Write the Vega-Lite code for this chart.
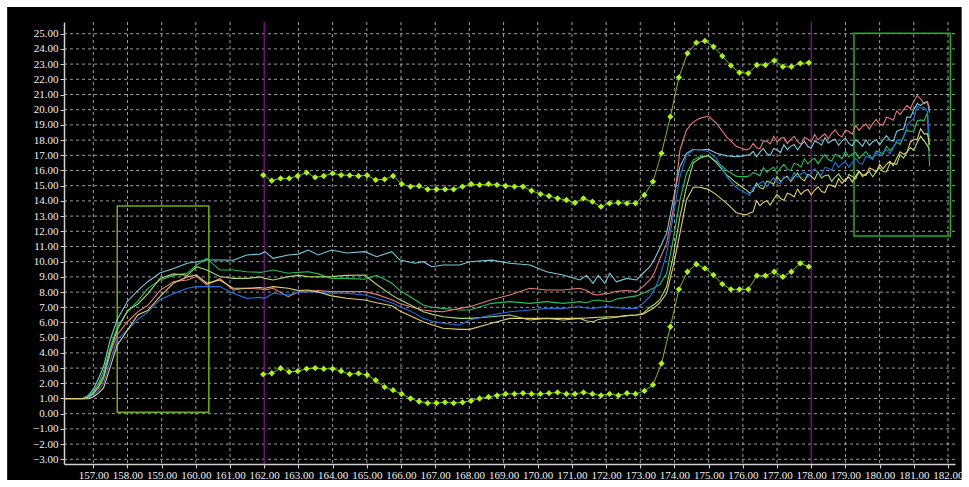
{
 "$schema": "https://vega.github.io/schema/vega-lite/v6.json",
 "width": 891,
 "height": 442,
 "autosize": {"type": "none"},
 "padding": {"left": 64, "top": 22, "right": 14, "bottom": 23},
 "background": "#ffffff",
 "config": {
  "view": {"stroke": null},
  "axis": {"domainColor": "#d0d0d0", "domainWidth": 1.5, "tickColor": "#d0d0d0", "tickSize": 4, "labelColor": "#f0f0f0", "labelFont": "Liberation Sans Narrow", "labelFontSize": 11}
 },
 "datasets": {
  "series": [
   {"x":156.14,"cy":0.97,"sa":1.0,"g":1.0,"lm":1.0,"bl":0.95,"ye":1.0},
   {"x":156.5,"cy":0.97,"sa":1.0,"g":1.0,"lm":1.0,"bl":0.95,"ye":1.0},
   {"x":156.7,"cy":1.0,"sa":1.0,"g":1.02,"lm":1.0,"bl":0.97,"ye":0.98},
   {"x":156.85,"cy":1.2,"sa":1.08,"g":1.15,"lm":1.08,"bl":1.02,"ye":0.98},
   {"x":157.0,"cy":1.6,"sa":1.3,"g":1.45,"lm":1.35,"bl":1.2,"ye":1.1},
   {"x":157.15,"cy":2.3,"sa":1.7,"g":2.0,"lm":1.8,"bl":1.5,"ye":1.35},
   {"x":157.3,"cy":3.1,"sa":2.3,"g":2.8,"lm":2.5,"bl":2.0,"ye":1.7},
   {"x":157.5,"cy":4.9,"sa":4.0,"g":4.4,"lm":4.2,"bl":3.5,"ye":3.1},
   {"x":157.7,"cy":6.2,"sa":5.2,"g":5.7,"lm":5.5,"bl":4.9,"ye":4.5},
   {"x":158.0,"cy":7.4,"sa":6.05,"g":6.7,"lm":6.8,"bl":5.5,"ye":5.5},
   {"x":158.3,"cy":8.1,"sa":6.7,"g":7.4,"lm":7.2,"bl":6.2,"ye":6.5},
   {"x":158.6,"cy":8.7,"sa":7.15,"g":8.25,"lm":7.9,"bl":6.7,"ye":6.8},
   {"x":158.95,"cy":9.25,"sa":8.1,"g":8.8,"lm":8.9,"bl":7.5,"ye":7.7},
   {"x":159.35,"cy":9.55,"sa":8.7,"g":9.1,"lm":9.2,"bl":7.9,"ye":8.6},
   {"x":159.75,"cy":9.9,"sa":8.8,"g":9.25,"lm":9.1,"bl":8.25,"ye":9.0},
   {"x":160.02,"cy":10.0,"sa":9.02,"g":9.78,"lm":9.67,"bl":8.36,"ye":9.12},
   {"x":160.32,"cy":10.11,"sa":8.47,"g":10.22,"lm":9.45,"bl":8.36,"ye":8.58},
   {"x":160.7,"cy":10.11,"sa":8.9,"g":9.45,"lm":9.02,"bl":8.36,"ye":8.8},
   {"x":161.09,"cy":10.1,"sa":8.14,"g":9.45,"lm":8.9,"bl":7.92,"ye":8.25},
   {"x":161.49,"cy":10.44,"sa":8.25,"g":9.34,"lm":8.9,"bl":7.59,"ye":8.25},
   {"x":161.88,"cy":10.5,"sa":8.2,"g":9.3,"lm":9.0,"bl":7.65,"ye":8.3},
   {"x":162.02,"cy":10.66,"sa":8.14,"g":9.34,"lm":8.9,"bl":7.59,"ye":8.25},
   {"x":162.26,"cy":10.22,"sa":8.25,"g":9.45,"lm":8.8,"bl":7.92,"ye":8.36},
   {"x":162.7,"cy":10.44,"sa":7.7,"g":9.24,"lm":9.02,"bl":7.81,"ye":8.25},
   {"x":163.0,"cy":10.5,"sa":8.0,"g":9.3,"lm":9.1,"bl":8.0,"ye":8.1},
   {"x":163.29,"cy":10.77,"sa":8.03,"g":9.34,"lm":9.02,"bl":8.03,"ye":8.14},
   {"x":163.58,"cy":10.44,"sa":8.1,"g":9.2,"lm":9.0,"bl":8.0,"ye":8.0},
   {"x":163.97,"cy":10.77,"sa":8.03,"g":8.9,"lm":9.02,"bl":7.92,"ye":7.75},
   {"x":164.41,"cy":10.57,"sa":8.03,"g":8.9,"lm":9.1,"bl":7.92,"ye":7.6},
   {"x":164.94,"cy":10.66,"sa":8.03,"g":8.85,"lm":9.12,"bl":7.81,"ye":7.48},
   {"x":165.29,"cy":10.33,"sa":7.85,"g":9.1,"lm":8.5,"bl":7.6,"ye":7.3},
   {"x":165.73,"cy":10.66,"sa":7.5,"g":8.6,"lm":7.8,"bl":7.3,"ye":7.1},
   {"x":165.97,"cy":10.11,"sa":7.25,"g":8.1,"lm":7.5,"bl":7.05,"ye":6.75},
   {"x":166.41,"cy":9.9,"sa":6.95,"g":7.5,"lm":7.0,"bl":6.6,"ye":6.3},
   {"x":166.65,"cy":10.0,"sa":6.82,"g":7.15,"lm":6.71,"bl":6.27,"ye":6.05},
   {"x":166.9,"cy":9.67,"sa":6.75,"g":7.0,"lm":6.55,"bl":6.1,"ye":5.85},
   {"x":167.23,"cy":9.78,"sa":6.71,"g":6.93,"lm":6.38,"bl":5.95,"ye":5.62},
   {"x":167.72,"cy":9.78,"sa":6.93,"g":6.82,"lm":6.27,"bl":5.84,"ye":5.55},
   {"x":168.01,"cy":10.0,"sa":7.04,"g":6.82,"lm":6.27,"bl":6.16,"ye":5.55},
   {"x":168.65,"cy":10.1,"sa":7.5,"g":7.26,"lm":6.38,"bl":6.49,"ye":5.95},
   {"x":169.18,"cy":9.9,"sa":7.81,"g":7.37,"lm":6.49,"bl":6.71,"ye":6.27},
   {"x":169.77,"cy":9.78,"sa":8.25,"g":7.26,"lm":6.16,"bl":6.82,"ye":6.27},
   {"x":170.26,"cy":9.34,"sa":8.14,"g":7.37,"lm":6.27,"bl":6.93,"ye":6.27},
   {"x":170.74,"cy":9.12,"sa":8.14,"g":7.26,"lm":6.16,"bl":6.93,"ye":6.27},
   {"x":171.23,"cy":8.8,"sa":8.25,"g":7.37,"lm":6.27,"bl":7.04,"ye":6.27},
   {"x":171.43,"cy":9.1,"sa":8.1,"g":7.3,"lm":6.1,"bl":6.95,"ye":6.3},
   {"x":171.62,"cy":8.58,"sa":7.85,"g":7.45,"lm":6.05,"bl":6.93,"ye":6.32},
   {"x":171.77,"cy":9.1,"sa":7.81,"g":7.48,"lm":6.2,"bl":6.98,"ye":6.34},
   {"x":171.96,"cy":8.58,"sa":7.9,"g":7.4,"lm":6.27,"bl":7.04,"ye":6.36},
   {"x":172.11,"cy":9.24,"sa":7.92,"g":7.37,"lm":6.3,"bl":7.04,"ye":6.38},
   {"x":172.3,"cy":8.68,"sa":8.05,"g":7.55,"lm":6.35,"bl":6.98,"ye":6.38},
   {"x":172.6,"cy":8.9,"sa":8.1,"g":7.65,"lm":6.45,"bl":6.93,"ye":6.45},
   {"x":172.89,"cy":8.8,"sa":8.03,"g":7.75,"lm":6.49,"bl":6.93,"ye":6.49},
   {"x":173.08,"cy":9.24,"sa":8.36,"g":7.92,"lm":6.6,"bl":7.26,"ye":6.55},
   {"x":173.28,"cy":9.67,"sa":8.8,"g":8.14,"lm":7.0,"bl":7.7,"ye":6.8},
   {"x":173.42,"cy":10.2,"sa":9.3,"g":8.3,"lm":7.2,"bl":8.2,"ye":7.0},
   {"x":173.57,"cy":10.9,"sa":10.2,"g":8.5,"lm":7.5,"bl":9.0,"ye":7.3},
   {"x":173.77,"cy":11.86,"sa":11.2,"g":9.24,"lm":8.36,"bl":10.55,"ye":7.92},
   {"x":173.96,"cy":14.06,"sa":13.4,"g":11.42,"lm":10.33,"bl":12.96,"ye":9.67},
   {"x":174.16,"cy":16.25,"sa":17.35,"g":14.06,"lm":12.96,"bl":15.6,"ye":11.86},
   {"x":174.35,"cy":17.13,"sa":18.66,"g":15.8,"lm":14.9,"bl":17.0,"ye":14.06},
   {"x":174.55,"cy":17.4,"sa":19.2,"g":16.7,"lm":16.5,"bl":17.35,"ye":14.9},
   {"x":174.74,"cy":17.35,"sa":19.43,"g":16.9,"lm":16.8,"bl":17.4,"ye":14.9},
   {"x":174.99,"cy":17.4,"sa":19.58,"g":16.96,"lm":17.0,"bl":17.24,"ye":14.76},
   {"x":175.23,"cy":17.13,"sa":19.1,"g":16.6,"lm":16.5,"bl":16.8,"ye":14.4},
   {"x":175.53,"cy":16.96,"sa":18.2,"g":16.0,"lm":15.7,"bl":15.6,"ye":13.84},
   {"x":175.6,"cy":16.95,"sa":18.05,"g":15.9,"lm":15.57,"bl":15.4,"ye":13.69},
   {"x":175.7,"cy":16.93,"sa":17.83,"g":15.77,"lm":15.38,"bl":15.16,"ye":13.47},
   {"x":175.8,"cy":16.9,"sa":17.61,"g":15.63,"lm":15.19,"bl":14.9,"ye":13.24},
   {"x":175.9,"cy":16.93,"sa":17.51,"g":15.6,"lm":15.03,"bl":14.75,"ye":13.16},
   {"x":176.0,"cy":16.96,"sa":17.43,"g":15.6,"lm":14.87,"bl":14.63,"ye":13.12},
   {"x":176.1,"cy":17.0,"sa":17.36,"g":15.6,"lm":14.72,"bl":14.51,"ye":13.08},
   {"x":176.2,"cy":17.04,"sa":17.44,"g":15.65,"lm":14.52,"bl":14.38,"ye":13.2},
   {"x":176.3,"cy":17.26,"sa":17.78,"g":15.86,"lm":14.65,"bl":14.88,"ye":13.28},
   {"x":176.4,"cy":16.9,"sa":17.5,"g":15.79,"lm":15.17,"bl":14.94,"ye":14.02},
   {"x":176.5,"cy":17.21,"sa":17.43,"g":15.65,"lm":14.87,"bl":15.16,"ye":13.68},
   {"x":176.6,"cy":17.45,"sa":17.95,"g":16.19,"lm":14.79,"bl":15.29,"ye":13.9},
   {"x":176.7,"cy":17.12,"sa":17.92,"g":15.87,"lm":15.3,"bl":14.93,"ye":14.02},
   {"x":176.8,"cy":16.99,"sa":17.75,"g":16.09,"lm":15.22,"bl":15.27,"ye":13.73},
   {"x":176.9,"cy":17.45,"sa":18.25,"g":16.21,"lm":15.08,"bl":15.53,"ye":14.11},
   {"x":177.0,"cy":17.35,"sa":17.9,"g":15.85,"lm":15.61,"bl":15.23,"ye":14.43},
   {"x":177.1,"cy":17.18,"sa":18.1,"g":16.16,"lm":15.28,"bl":15.13,"ye":14.16},
   {"x":177.2,"cy":17.7,"sa":18.18,"g":16.41,"lm":15.5,"bl":15.6,"ye":14.04},
   {"x":177.3,"cy":17.37,"sa":17.78,"g":16.09,"lm":15.63,"bl":15.52,"ye":14.51},
   {"x":177.4,"cy":17.59,"sa":18.05,"g":15.99,"lm":15.27,"bl":15.36,"ye":14.42},
   {"x":177.5,"cy":17.71,"sa":18.25,"g":16.47,"lm":15.58,"bl":15.88,"ye":14.26},
   {"x":177.6,"cy":17.35,"sa":17.88,"g":16.39,"lm":15.82,"bl":15.54,"ye":14.78},
   {"x":177.7,"cy":17.67,"sa":17.73,"g":16.24,"lm":15.48,"bl":15.77,"ye":14.43},
   {"x":177.8,"cy":17.91,"sa":18.17,"g":16.77,"lm":15.32,"bl":15.9,"ye":14.65},
   {"x":177.9,"cy":17.58,"sa":18.06,"g":16.44,"lm":15.75,"bl":15.55,"ye":14.76},
   {"x":178.0,"cy":17.46,"sa":17.88,"g":16.67,"lm":15.62,"bl":15.87,"ye":14.4},
   {"x":178.1,"cy":17.94,"sa":18.37,"g":16.8,"lm":15.42,"bl":16.12,"ye":14.7},
   {"x":178.2,"cy":17.85,"sa":18.01,"g":16.45,"lm":15.9,"bl":15.8,"ye":14.93},
   {"x":178.3,"cy":17.67,"sa":18.24,"g":16.78,"lm":15.51,"bl":15.71,"ye":14.62},
   {"x":178.4,"cy":18.16,"sa":18.41,"g":17.04,"lm":15.66,"bl":16.21,"ye":14.55},
   {"x":178.5,"cy":17.79,"sa":18.09,"g":16.72,"lm":15.71,"bl":16.15,"ye":15.06},
   {"x":178.6,"cy":17.97,"sa":18.45,"g":16.62,"lm":15.28,"bl":16.02,"ye":15.02},
   {"x":178.7,"cy":18.06,"sa":18.68,"g":17.07,"lm":15.57,"bl":16.55,"ye":14.9},
   {"x":178.8,"cy":17.66,"sa":18.34,"g":16.95,"lm":15.78,"bl":16.21,"ye":15.46},
   {"x":178.9,"cy":17.94,"sa":18.21,"g":16.77,"lm":15.43,"bl":16.44,"ye":15.15},
   {"x":179.0,"cy":18.14,"sa":18.67,"g":17.26,"lm":15.28,"bl":16.57,"ye":15.41},
   {"x":179.1,"cy":17.78,"sa":18.56,"g":16.9,"lm":15.73,"bl":16.21,"ye":15.57},
   {"x":179.2,"cy":17.62,"sa":18.39,"g":17.09,"lm":15.61,"bl":16.53,"ye":15.25},
   {"x":179.3,"cy":18.02,"sa":18.95,"g":17.18,"lm":15.44,"bl":16.8,"ye":15.63},
   {"x":179.4,"cy":17.84,"sa":18.64,"g":16.78,"lm":15.94,"bl":16.5,"ye":15.96},
   {"x":179.5,"cy":17.59,"sa":18.9,"g":17.05,"lm":15.59,"bl":16.42,"ye":15.71},
   {"x":179.6,"cy":18.02,"sa":19.06,"g":17.25,"lm":15.79,"bl":16.93,"ye":15.68},
   {"x":179.7,"cy":17.66,"sa":18.73,"g":16.92,"lm":15.92,"bl":16.86,"ye":16.17},
   {"x":179.8,"cy":17.89,"sa":19.08,"g":16.81,"lm":15.59,"bl":16.71,"ye":16.06},
   {"x":179.9,"cy":18.02,"sa":19.36,"g":17.29,"lm":15.92,"bl":17.24,"ye":15.89},
   {"x":180.0,"cy":17.67,"sa":19.06,"g":17.21,"lm":16.19,"bl":16.91,"ye":16.4},
   {"x":180.1,"cy":18.01,"sa":18.98,"g":17.07,"lm":15.93,"bl":17.19,"ye":16.11},
   {"x":180.2,"cy":18.29,"sa":19.49,"g":17.61,"lm":15.9,"bl":17.38,"ye":16.41},
   {"x":180.3,"cy":18.0,"sa":19.44,"g":17.3,"lm":16.46,"bl":17.1,"ye":16.6},
   {"x":180.4,"cy":17.92,"sa":19.31,"g":17.54,"lm":16.46,"bl":17.48,"ye":16.32},
   {"x":180.5,"cy":18.57,"sa":19.92,"g":17.86,"lm":16.41,"bl":17.99,"ye":16.8},
   {"x":180.6,"cy":18.68,"sa":19.68,"g":17.72,"lm":17.04,"bl":17.95,"ye":17.23},
   {"x":180.7,"cy":18.72,"sa":20.0,"g":18.25,"lm":16.82,"bl":18.12,"ye":17.08},
   {"x":180.8,"cy":19.53,"sa":20.28,"g":18.68,"lm":17.22,"bl":18.95,"ye":17.19},
   {"x":180.9,"cy":19.49,"sa":20.08,"g":18.55,"lm":17.51,"bl":19.22,"ye":17.88},
   {"x":181.0,"cy":20.0,"sa":20.55,"g":18.62,"lm":17.33,"bl":19.42,"ye":18.02},
   {"x":181.1,"cy":20.4,"sa":20.93,"g":19.26,"lm":17.84,"bl":20.22,"ye":18.06},
   {"x":181.2,"cy":20.27,"sa":20.71,"g":19.33,"lm":18.26,"bl":20.11,"ye":18.75},
   {"x":181.3,"cy":20.48,"sa":20.39,"g":19.27,"lm":17.95,"bl":20.15,"ye":18.41},
   {"x":181.4,"cy":20.53,"sa":20.51,"g":19.8,"lm":17.64,"bl":19.88,"ye":18.42},
   {"x":181.46,"cy":19.8,"sa":20.1,"g":16.3,"lm":17.3,"bl":18.0,"ye":17.7}
  ],
  "envelope": [
   {"x":161.97,"up":15.70,"lo":2.59},{"x":162.22,"up":15.33,"lo":2.66},{"x":162.48,"up":15.48,"lo":2.99},{"x":162.73,"up":15.48,"lo":2.75},
   {"x":162.98,"up":15.64,"lo":2.8},{"x":163.24,"up":15.86,"lo":2.95},{"x":163.49,"up":15.55,"lo":3.0},{"x":163.74,"up":15.64,"lo":2.95},
   {"x":164.0,"up":15.81,"lo":2.95},{"x":164.25,"up":15.70,"lo":2.8},{"x":164.5,"up":15.68,"lo":2.6},{"x":164.76,"up":15.64,"lo":2.65},
   {"x":165.01,"up":15.68,"lo":2.55},{"x":165.26,"up":15.38,"lo":2.2},{"x":165.52,"up":15.42,"lo":1.75},{"x":165.77,"up":15.64,"lo":1.55},
   {"x":166.02,"up":15.11,"lo":1.3},{"x":166.28,"up":14.94,"lo":1.0},{"x":166.53,"up":14.98,"lo":0.8},{"x":166.78,"up":14.76,"lo":0.7},
   {"x":167.04,"up":14.76,"lo":0.7},{"x":167.29,"up":14.76,"lo":0.75},{"x":167.54,"up":14.76,"lo":0.7},{"x":167.8,"up":14.94,"lo":0.75},
   {"x":168.05,"up":15.11,"lo":0.85},{"x":168.3,"up":15.05,"lo":1.0},{"x":168.56,"up":15.11,"lo":1.1},{"x":168.81,"up":15.05,"lo":1.2},
   {"x":169.06,"up":14.98,"lo":1.3},{"x":169.32,"up":14.94,"lo":1.3},{"x":169.57,"up":14.94,"lo":1.35},{"x":169.82,"up":14.67,"lo":1.3},
   {"x":170.08,"up":14.45,"lo":1.3},{"x":170.33,"up":14.32,"lo":1.35},{"x":170.58,"up":14.17,"lo":1.4},{"x":170.84,"up":14.06,"lo":1.3},
   {"x":171.09,"up":13.88,"lo":1.3},{"x":171.34,"up":14.17,"lo":1.4},{"x":171.6,"up":13.95,"lo":1.3},{"x":171.85,"up":13.62,"lo":1.2},
   {"x":172.1,"up":13.84,"lo":1.3},{"x":172.36,"up":13.88,"lo":1.2},{"x":172.61,"up":13.84,"lo":1.35},{"x":172.86,"up":13.84,"lo":1.3},
   {"x":173.12,"up":14.39,"lo":1.5},{"x":173.37,"up":15.27,"lo":1.9},{"x":173.62,"up":17.13,"lo":3.3},{"x":173.88,"up":19.54,"lo":5.72},
   {"x":174.13,"up":22.13,"lo":8.18},{"x":174.38,"up":23.71,"lo":9.34},{"x":174.64,"up":24.41,"lo":9.83},{"x":174.89,"up":24.52,"lo":9.56},
   {"x":175.14,"up":24.15,"lo":9.13},{"x":175.4,"up":23.53,"lo":8.53},{"x":175.65,"up":22.9,"lo":8.18},{"x":175.9,"up":22.44,"lo":8.18},
   {"x":176.16,"up":22.39,"lo":8.18},{"x":176.41,"up":22.94,"lo":9.08},{"x":176.66,"up":22.94,"lo":9.08},{"x":176.92,"up":23.23,"lo":9.34},
   {"x":177.17,"up":22.83,"lo":9.01},{"x":177.42,"up":22.83,"lo":9.34},{"x":177.68,"up":23.05,"lo":9.89},{"x":177.93,"up":23.09,"lo":9.67}
  ],
  "gridx": [{"g":157},{"g":158},{"g":159},{"g":160},{"g":161},{"g":163},{"g":164},{"g":165},{"g":166},{"g":167},{"g":168},{"g":169},{"g":170},{"g":171},{"g":172},{"g":173},{"g":174},{"g":175},{"g":176},{"g":177},{"g":179},{"g":180},{"g":181},{"g":182}],
  "gridy": [{"g":-3},{"g":-2},{"g":-1},{"g":0},{"g":1},{"g":2},{"g":3},{"g":4},{"g":5},{"g":6},{"g":7},{"g":8},{"g":9},{"g":10},{"g":11},{"g":12},{"g":13},{"g":14},{"g":15},{"g":16},{"g":17},{"g":18},{"g":19},{"g":20},{"g":21},{"g":22},{"g":23},{"g":24},{"g":25}]
 },
 "layer": [
  {
   "data": {"values": [{}]},
   "mark": {"type": "rect", "fill": "#000000", "clip": false},
   "encoding": {
    "x": {"datum": 154.48, "type": "quantitative", "scale": {"domain": [156.143, 182.205], "nice": false, "zero": false},
          "axis": {"zindex": 1, "values": [157,158,159,160,161,162,163,164,165,166,167,168,169,170,171,172,173,174,175,176,177,178,179,180,181,182], "format": ".2f", "grid": false, "title": null, "labelPadding": 1, "labelFlush": false, "labelOverlap": false}},
    "x2": {"datum": 182.4},
    "y": {"datum": 26.76, "type": "quantitative", "scale": {"domain": [-3.31, 25.77], "nice": false, "zero": false},
          "axis": {"zindex": 1, "values": [-3,-2,-1,0,1,2,3,4,5,6,7,8,9,10,11,12,13,14,15,16,17,18,19,20,21,22,23,24,25], "format": ".2f", "grid": false, "title": null, "labelPadding": 2, "labelOverlap": false}},
    "y2": {"datum": -4.36}
   }
  },
  {
   "data": {"name": "gridx"},
   "mark": {"type": "rule", "color": "#c4c4c4", "strokeWidth": 1, "strokeDash": [3, 3], "opacity": 0.8},
   "encoding": {
    "x": {"field": "g", "type": "quantitative", "scale": {"domain": [156.143, 182.205], "nice": false, "zero": false},
          "axis": {"zindex": 1, "values": [157,158,159,160,161,162,163,164,165,166,167,168,169,170,171,172,173,174,175,176,177,178,179,180,181,182], "format": ".2f", "grid": false, "title": null, "labelPadding": 1, "labelFlush": false, "labelOverlap": false}}
   }
  },
  {
   "data": {"name": "gridy"},
   "mark": {"type": "rule", "color": "#c4c4c4", "strokeWidth": 1, "strokeDash": [3, 3], "opacity": 0.8},
   "encoding": {
    "y": {"field": "g", "type": "quantitative", "scale": {"domain": [-3.31, 25.77], "nice": false, "zero": false},
          "axis": {"zindex": 1, "values": [-3,-2,-1,0,1,2,3,4,5,6,7,8,9,10,11,12,13,14,15,16,17,18,19,20,21,22,23,24,25], "format": ".2f", "grid": false, "title": null, "labelPadding": 2, "labelOverlap": false}}
   }
  },
  {
   "data": {"values": [{"t": 162}, {"t": 178}]},
   "mark": {"type": "rule", "color": "#74107a", "strokeWidth": 1.5},
   "encoding": {
    "x": {"field": "t", "type": "quantitative", "scale": {"domain": [156.143, 182.205], "nice": false, "zero": false},
          "axis": {"zindex": 1, "values": [157,158,159,160,161,162,163,164,165,166,167,168,169,170,171,172,173,174,175,176,177,178,179,180,181,182], "format": ".2f", "grid": false, "title": null, "labelPadding": 1, "labelFlush": false, "labelOverlap": false}}
   }
  },
  {
   "data": {"values": [{"x1": 157.7, "x2": 160.38, "y1": 0.1, "y2": 13.66, "box": "left"}, {"x1": 179.25, "x2": 182.07, "y1": 11.69, "y2": 25.03, "box": "right"}]},
   "mark": {"type": "rect", "filled": false, "strokeWidth": 1.5},
   "encoding": {
    "x": {"field": "x1", "type": "quantitative", "scale": {"domain": [156.143, 182.205], "nice": false, "zero": false},
          "axis": {"zindex": 1, "values": [157,158,159,160,161,162,163,164,165,166,167,168,169,170,171,172,173,174,175,176,177,178,179,180,181,182], "format": ".2f", "grid": false, "title": null, "labelPadding": 1, "labelFlush": false, "labelOverlap": false}},
    "x2": {"field": "x2"},
    "y": {"field": "y1", "type": "quantitative", "scale": {"domain": [-3.31, 25.77], "nice": false, "zero": false},
          "axis": {"zindex": 1, "values": [-3,-2,-1,0,1,2,3,4,5,6,7,8,9,10,11,12,13,14,15,16,17,18,19,20,21,22,23,24,25], "format": ".2f", "grid": false, "title": null, "labelPadding": 2, "labelOverlap": false}},
    "y2": {"field": "y2"},
    "stroke": {"field": "box", "type": "nominal", "scale": {"domain": ["left", "right"], "range": ["#6cae1e", "#22b022"]}, "legend": null}
   }
  },
  {
   "data": {"name": "series"},
   "transform": [{"fold": ["cy", "sa", "g", "lm", "bl", "ye"], "as": ["series", "value"]}],
   "mark": {"type": "line", "strokeWidth": 1.1},
   "encoding": {
    "x": {"field": "x", "type": "quantitative", "scale": {"domain": [156.143, 182.205], "nice": false, "zero": false},
          "axis": {"zindex": 1, "values": [157,158,159,160,161,162,163,164,165,166,167,168,169,170,171,172,173,174,175,176,177,178,179,180,181,182], "format": ".2f", "grid": false, "title": null, "labelPadding": 1, "labelFlush": false, "labelOverlap": false}},
    "y": {"field": "value", "type": "quantitative", "scale": {"domain": [-3.31, 25.77], "nice": false, "zero": false},
          "axis": {"zindex": 1, "values": [-3,-2,-1,0,1,2,3,4,5,6,7,8,9,10,11,12,13,14,15,16,17,18,19,20,21,22,23,24,25], "format": ".2f", "grid": false, "title": null, "labelPadding": 2, "labelOverlap": false}},
    "color": {"field": "series", "type": "nominal", "scale": {"domain": ["cy", "sa", "g", "lm", "bl", "ye"], "range": ["#78cad8", "#e87878", "#22c060", "#a8d868", "#2070e0", "#e0d070"]}, "legend": null}
   }
  },
  {
   "data": {"name": "envelope"},
   "transform": [{"fold": ["up", "lo"], "as": ["band", "v"]}],
   "mark": {"type": "line", "color": "#7cbc1c", "strokeWidth": 1},
   "encoding": {
    "x": {"field": "x", "type": "quantitative", "scale": {"domain": [156.143, 182.205], "nice": false, "zero": false},
          "axis": {"zindex": 1, "values": [157,158,159,160,161,162,163,164,165,166,167,168,169,170,171,172,173,174,175,176,177,178,179,180,181,182], "format": ".2f", "grid": false, "title": null, "labelPadding": 1, "labelFlush": false, "labelOverlap": false}},
    "y": {"field": "v", "type": "quantitative", "scale": {"domain": [-3.31, 25.77], "nice": false, "zero": false},
          "axis": {"zindex": 1, "values": [-3,-2,-1,0,1,2,3,4,5,6,7,8,9,10,11,12,13,14,15,16,17,18,19,20,21,22,23,24,25], "format": ".2f", "grid": false, "title": null, "labelPadding": 2, "labelOverlap": false}},
    "detail": {"field": "band", "type": "nominal"}
   }
  },
  {
   "data": {"name": "envelope"},
   "transform": [{"fold": ["up", "lo"], "as": ["band", "v"]}],
   "mark": {"type": "point", "shape": "diamond", "filled": true, "color": "#a8f020", "size": 40, "opacity": 1},
   "encoding": {
    "x": {"field": "x", "type": "quantitative", "scale": {"domain": [156.143, 182.205], "nice": false, "zero": false},
          "axis": {"zindex": 1, "values": [157,158,159,160,161,162,163,164,165,166,167,168,169,170,171,172,173,174,175,176,177,178,179,180,181,182], "format": ".2f", "grid": false, "title": null, "labelPadding": 1, "labelFlush": false, "labelOverlap": false}},
    "y": {"field": "v", "type": "quantitative", "scale": {"domain": [-3.31, 25.77], "nice": false, "zero": false},
          "axis": {"zindex": 1, "values": [-3,-2,-1,0,1,2,3,4,5,6,7,8,9,10,11,12,13,14,15,16,17,18,19,20,21,22,23,24,25], "format": ".2f", "grid": false, "title": null, "labelPadding": 2, "labelOverlap": false}}
   }
  }
 ]
}
